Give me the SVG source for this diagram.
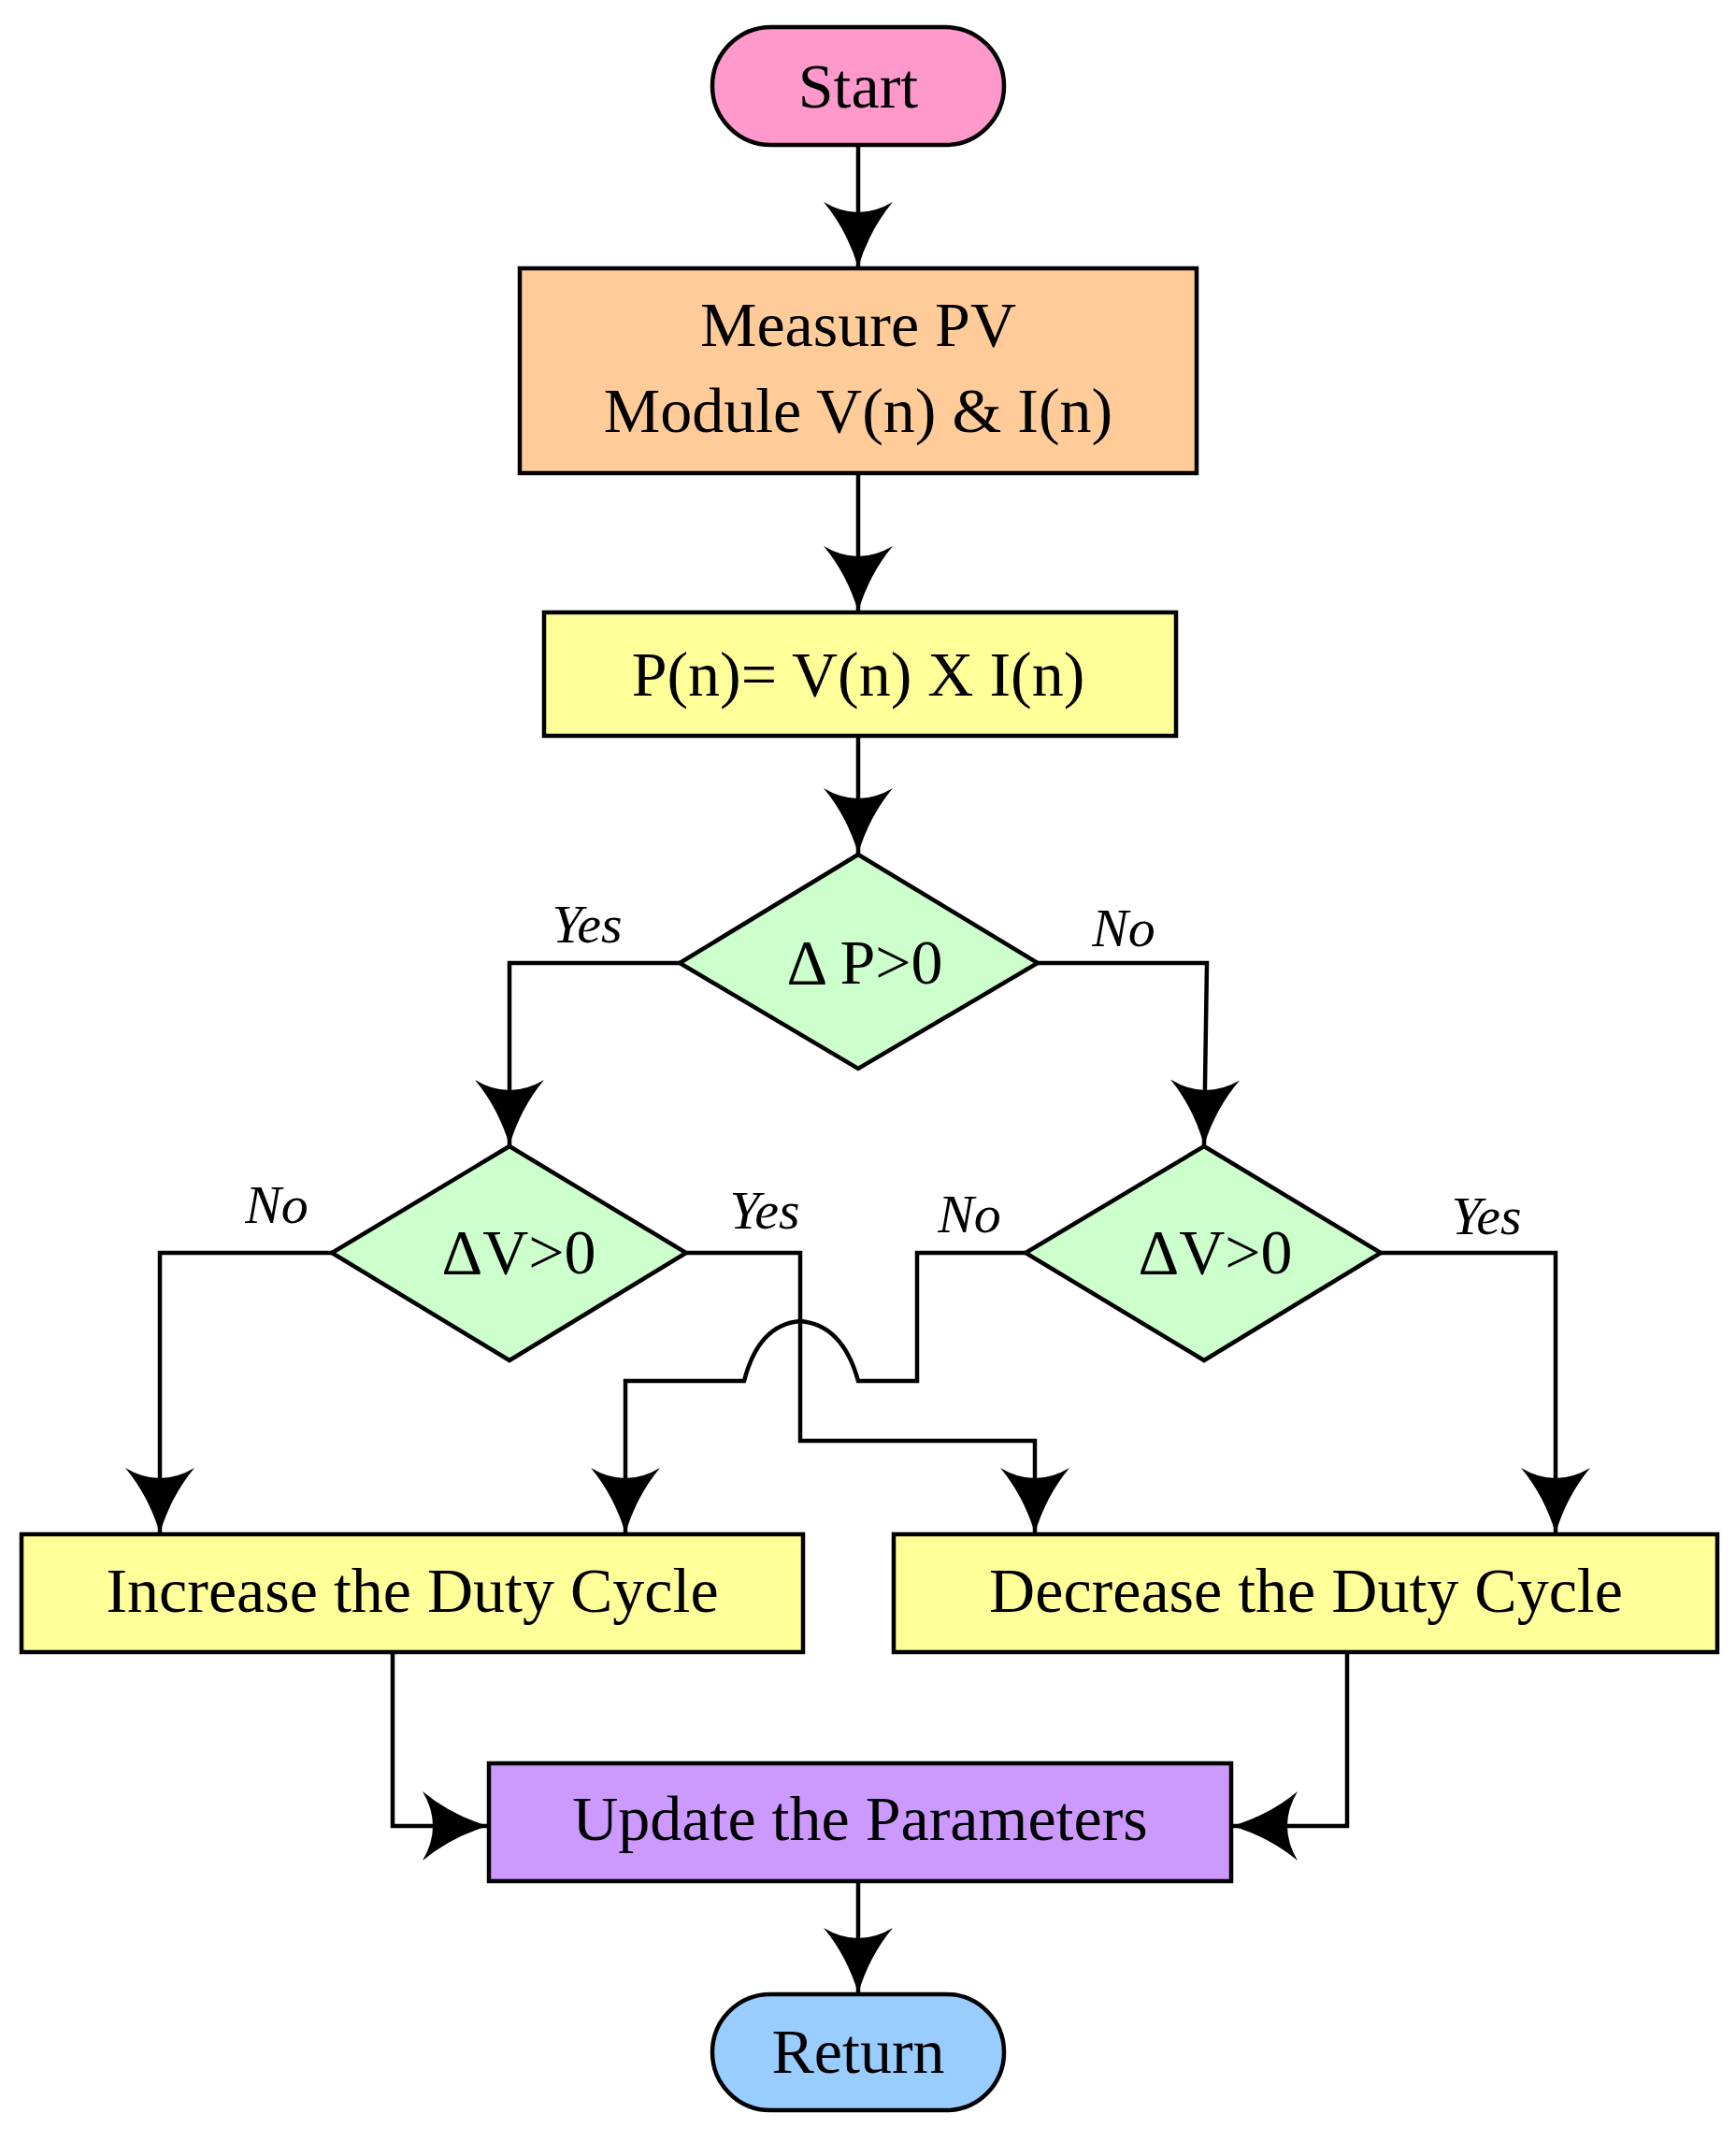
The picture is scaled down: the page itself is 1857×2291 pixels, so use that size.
<svg xmlns="http://www.w3.org/2000/svg" width="1857" height="2291" viewBox="0 0 1857 2291">
<style>
.s{stroke:#000;stroke-width:4.5}
.t{font-family:"Liberation Serif",serif;font-size:68px;text-anchor:middle;fill:#000}
.l{font-family:"Liberation Serif",serif;font-size:58px;font-style:italic;text-anchor:middle;fill:#000}
.c{fill:none;stroke:#000;stroke-width:4.5}
</style>
<defs>
<marker id="a" markerUnits="userSpaceOnUse" markerWidth="100" markerHeight="100" viewBox="-80 -50 90 100" refX="0" refY="0" orient="auto">
<path d="M0,0 Q-40,-12 -70,-37 Q-48,0 -70,37 Q-40,12 0,0 Z" fill="#000"/>
</marker>
</defs>
<rect width="1857" height="2291" fill="#fff"/>
<g id="connectors">
<path class="c" d="M918,155 V286" marker-end="url(#a)"/>
<path class="c" d="M918,506 V654" marker-end="url(#a)"/>
<path class="c" d="M918,787 V913" marker-end="url(#a)"/>
<path class="c" d="M727,1030 H545 V1225" marker-end="url(#a)"/>
<path class="c" d="M1110,1030 H1291 L1288,1225" marker-end="url(#a)"/>
<path class="c" d="M355,1340 H171 V1640" marker-end="url(#a)"/>
<path class="c" d="M734,1340 H856 V1541 H1107 V1640" marker-end="url(#a)"/>
<path class="c" d="M1097,1340 H981 V1477 H918 C905,1430 880,1415 856,1413 C832,1415 808,1430 796,1477 H669 V1640" marker-end="url(#a)"/>
<path class="c" d="M1477,1340 H1664 V1640" marker-end="url(#a)"/>
<path class="c" d="M420,1767 V1953 H522" marker-end="url(#a)"/>
<path class="c" d="M1441,1767 V1953 H1318" marker-end="url(#a)"/>
<path class="c" d="M918,2012 V2132" marker-end="url(#a)"/>
</g>
<g id="start"><rect class="s" x="762" y="29" width="312" height="126" rx="63" fill="#ff99cc"/><text class="t" x="918" y="115">Start</text></g>
<g id="measure"><rect class="s" x="556" y="287" width="724" height="219" fill="#ffcc99"/><text class="t" x="918" y="370">Measure PV</text><text class="t" x="918" y="462">Module V(n) &amp; I(n)</text></g>
<g id="power"><rect class="s" x="582" y="655" width="676" height="132" fill="#ffff99"/><text class="t" x="918" y="744">P(n)= V(n) X I(n)</text></g>
<g id="dp"><polygon class="s" points="918,914 1110,1030 918,1143 727,1030" fill="#ccffcc"/><text class="t" x="925" y="1052">Δ P&gt;0</text></g>
<g id="dv1"><polygon class="s" points="545,1226 734,1340 545,1455 355,1340" fill="#ccffcc"/><text class="t" x="555" y="1362">ΔV&gt;0</text></g>
<g id="dv2"><polygon class="s" points="1288,1226 1477,1340 1288,1455 1097,1340" fill="#ccffcc"/><text class="t" x="1300" y="1362">ΔV&gt;0</text></g>
<g id="inc"><rect class="s" x="23" y="1641" width="836" height="126" fill="#ffff99"/><text class="t" x="441" y="1724">Increase the Duty Cycle</text></g>
<g id="dec"><rect class="s" x="956" y="1641" width="881" height="126" fill="#ffff99"/><text class="t" x="1397" y="1724">Decrease the Duty Cycle</text></g>
<g id="upd"><rect class="s" x="523" y="1886" width="794" height="126" fill="#cc99ff"/><text class="t" x="920" y="1968">Update the Parameters</text></g>
<g id="ret"><rect class="s" x="762" y="2133" width="312" height="124" rx="62" fill="#99ccff"/><text class="t" x="918" y="2217">Return</text></g>
<g id="labels">
<text class="l" x="628" y="1008">Yes</text>
<text class="l" x="1202" y="1012">No</text>
<text class="l" x="296" y="1308">No</text>
<text class="l" x="818" y="1314">Yes</text>
<text class="l" x="1037" y="1318">No</text>
<text class="l" x="1590" y="1320">Yes</text>
</g>
</svg>
